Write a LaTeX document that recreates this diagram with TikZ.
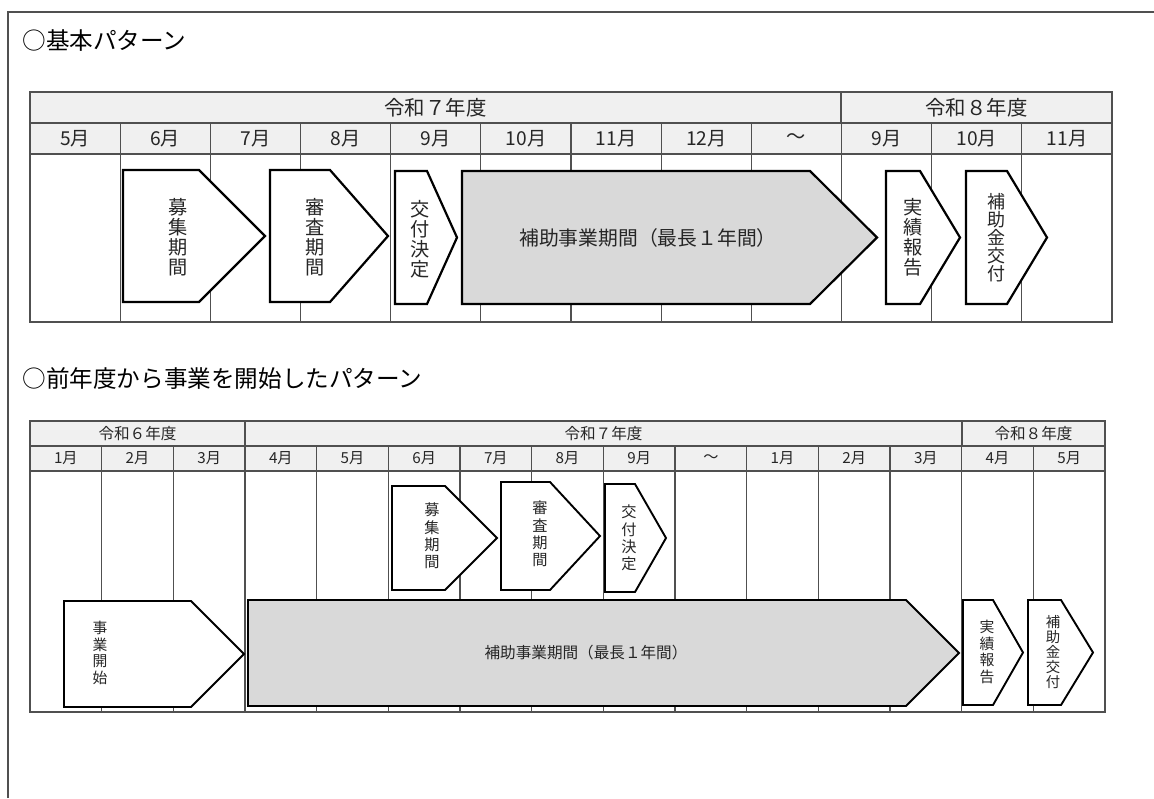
\documentclass[tikz,border=0pt]{standalone}
\usepackage{fontspec}
\setmainfont{Noto Sans CJK JP}
\usepackage{tikz}
\usetikzlibrary{positioning}
\usetikzlibrary{calc}

\definecolor{headgray}{HTML}{F0F0F0}
\definecolor{bargray}{HTML}{D9D9D9}
\definecolor{linegray}{HTML}{505050}

\tikzset{
  grid line/.style={linegray, line width=0.55pt},
  step arrow/.style={draw=black, line width=1.1pt, fill=white, line join=miter},
  period arrow/.style={step arrow, fill=bargray},
  small arrow/.style={step arrow, line width=0.95pt},
  small period/.style={small arrow, fill=bargray},
  big text/.style={inner sep=0pt, text=black!85, font=\fontsize{10.2}{12}\selectfont},
  small text/.style={inner sep=0pt, text=black!85, font=\fontsize{7.8}{9}\selectfont},
  vtext/.style={align=center, inner sep=0pt, text=black!85, font=\fontsize{9.6}{10}\selectfont},
  small vtext/.style={align=center, inner sep=0pt, text=black!85, font=\fontsize{7.4}{8.3}\selectfont},
  title/.style={anchor=west, inner sep=0pt, font=\fontsize{11.8}{14}\selectfont},
}

% arrow box: left, shoulder, tip, top, bottom
\newcommand{\steparrow}[6][step arrow]{%
  \draw[#1] (#2,#5) -- (#3,#5) -- (#4,{(#5+#6)/2}) -- (#3,#6) -- (#2,#6) -- cycle;}

\begin{document}
\begin{tikzpicture}[x=0.5pt, y=-0.5pt]
  \useasboundingbox (0,0) rectangle (1154,798);
  \draw[linegray, line width=0.8pt] (8,798) -- (8,12) -- (1154,12);

  % ---- basic pattern ----
  \node[title] (titleA) at (22,41) {○基本パターン};
  \fill[headgray] (30,92) rectangle (1112,154);
  \draw[grid line] (30,123) -- (1112,123);
  \draw[grid line] (30,154) -- (1112,154);
  \draw[grid line] (841,92) -- (841,123);
  \foreach \i in {1,...,11}
    \draw[grid line] ({30+\i*90.17},123) -- ({30+\i*90.17},322);
  \draw[grid line] (30,92) rectangle (1112,322);
  \node[big text] (yearA7) at (435.5,107.5) {令和７年度};
  \node[big text] (yearA8) at (976.5,107.5) {令和８年度};
  \foreach \m [count=\i] in {5月,6月,7月,8月,9月,10月,11月,12月,～,9月,10月,11月}
    \node[big text, font=\fontsize{9.6}{11}\selectfont] (monthA\i) at ({30+(\i-0.5)*90.17},138.5) {\m};

  \steparrow{123}{199}{265}{170}{302}
  \steparrow{270}{330}{388}{170}{302}
  \steparrow{395}{427}{457}{171}{304}
  \steparrow[period arrow]{462}{810}{877}{171}{304}
  \steparrow{886}{920}{960}{171}{304}
  \steparrow{966}{1007}{1047}{171}{304}
  \node[vtext] (boshuA) at (178,237) {募\\集\\期\\間};
  \node[vtext] (shinsaA) at (315,237) {審\\査\\期\\間};
  \node[vtext] (kettei) at (420,239) {交\\付\\決\\定};
  \node[big text, font=\fontsize{9.9}{12}\selectfont] (jigyoA) at (648,238) {補助事業期間（最長１年間）};
  \node[vtext] (hokokuA) at (913,237) {実\\績\\報\\告};
  \node[vtext, font=\fontsize{9}{9}\selectfont] (kofuA) at (996,238) {補\\助\\金\\交\\付};

  % ---- pattern started in previous year ----
  \node[title] (titleB) at (22,378) {○前年度から事業を開始したパターン};
  \fill[headgray] (30,421) rectangle (1105,471);
  \draw[grid line] (30,446) -- (1105,446);
  \draw[grid line] (30,471) -- (1105,471);
  \draw[grid line] (245,421) -- (245,446);
  \draw[grid line] (962,421) -- (962,446);
  \foreach \i in {1,...,14}
    \draw[grid line] ({30+\i*71.667},446) -- ({30+\i*71.667},712);
  \draw[grid line] (30,421) rectangle (1105,712);
  \node[small text] (yearB6) at (137.5,433.5) {令和６年度};
  \node[small text] (yearB7) at (603.5,433.5) {令和７年度};
  \node[small text] (yearB8) at (1033.5,433.5) {令和８年度};
  \foreach \m [count=\i] in {1月,2月,3月,4月,5月,6月,7月,8月,9月,～,1月,2月,3月,4月,5月}
    \node[small text, font=\fontsize{7.6}{9}\selectfont] (monthB\i) at ({30+(\i-0.5)*71.667},458.5) {\m};

  \steparrow[small arrow]{64}{191}{244}{601}{707}
  \steparrow[small period]{248}{906}{959}{600}{706}
  \steparrow[small arrow]{392}{445}{497}{486}{590}
  \steparrow[small arrow]{501}{550}{600}{482}{590}
  \steparrow[small arrow]{605}{635}{666}{484}{592}
  \steparrow[small arrow]{963}{993}{1023}{600}{705}
  \steparrow[small arrow]{1028}{1061}{1093}{600}{705}
  \node[small vtext] (kaishi) at (100,653) {事\\業\\開\\始};
  \node[small vtext, font=\fontsize{7.6}{8.6}\selectfont] (boshuB) at (432,536) {募\\集\\期\\間};
  \node[small vtext, font=\fontsize{7.6}{8.6}\selectfont] (shinsaB) at (540,534) {審\\査\\期\\間};
  \node[small vtext, font=\fontsize{7.6}{8.6}\selectfont] (ketteiB) at (629,538) {交\\付\\決\\定};
  \node[small text] (jigyoB) at (586,653) {補助事業期間（最長１年間）};
  \node[small vtext] (hokokuB) at (987,652) {実\\績\\報\\告};
  \node[small vtext, font=\fontsize{7.2}{7.5}\selectfont] (kofuB) at (1053,652) {補\\助\\金\\交\\付};
\end{tikzpicture}
\end{document}
